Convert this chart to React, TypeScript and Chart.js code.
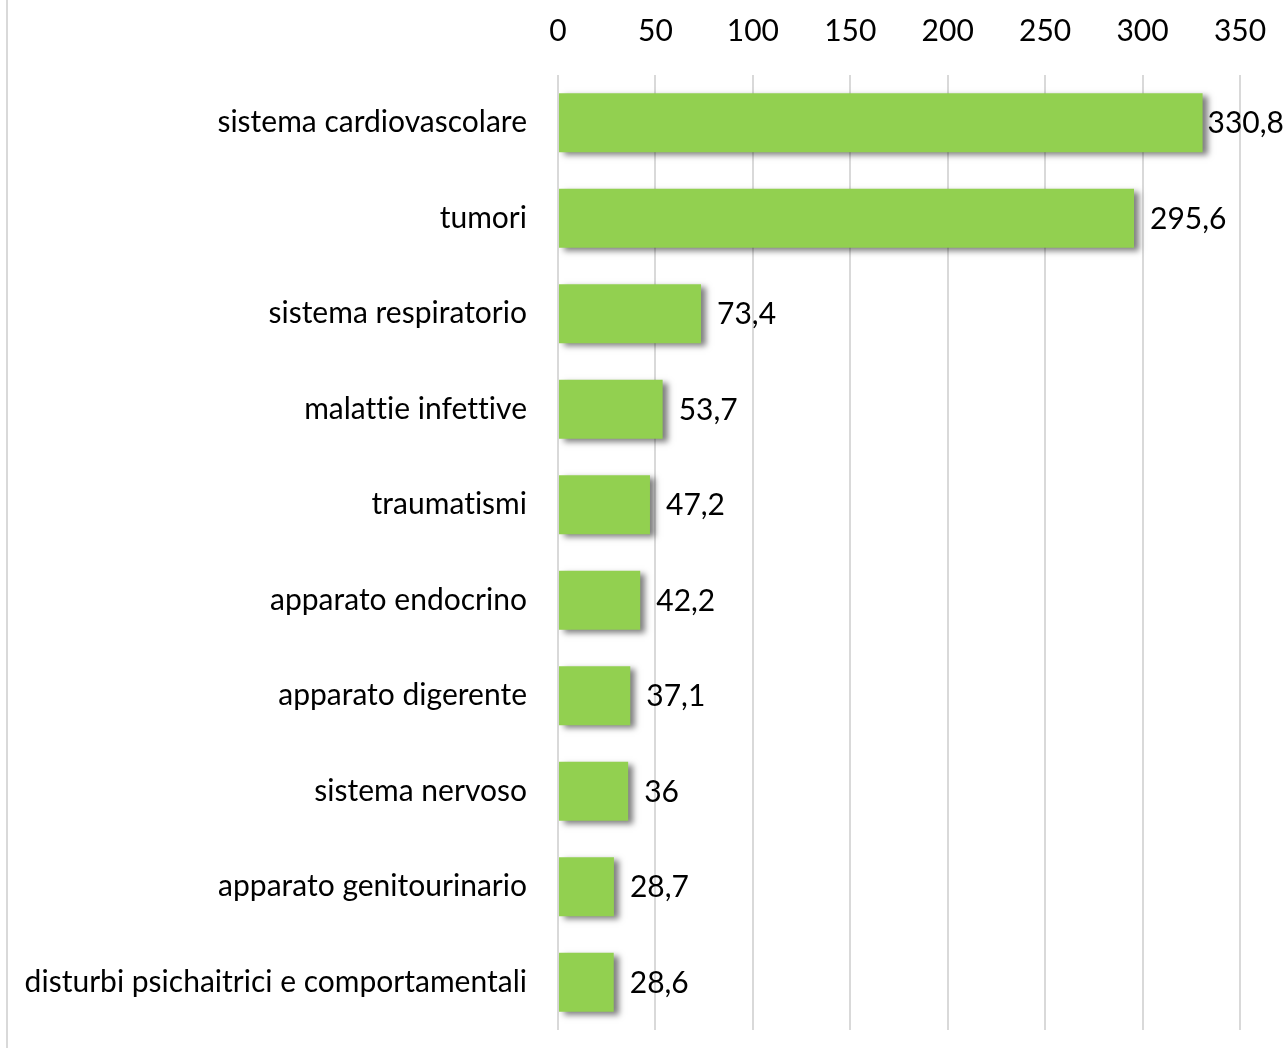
import React, { useEffect, useRef } from "react";
import { Chart, registerables } from "chart.js";

Chart.register(...registerables);

const categories: string[] = [
  "sistema cardiovascolare",
  "tumori",
  "sistema respiratorio",
  "malattie infettive",
  "traumatismi",
  "apparato endocrino",
  "apparato digerente",
  "sistema nervoso",
  "apparato genitourinario",
  "disturbi psichaitrici e comportamentali",
];

const values: number[] = [330.8, 295.6, 73.4, 53.7, 47.2, 42.2, 37.1, 36, 28.7, 28.6];

const xTicks: number[] = [0, 50, 100, 150, 200, 250, 300, 350];

const FONT = "Lato, 'Open Sans', sans-serif";
const FONT_SIZE = 30;
const GREEN = "#92D050";

const fmt = (v: number) => String(v).replace(".", ",");

const noLigaturePlugin = {
  id: "noLigatures",
  beforeDraw(chart: any) {
    const ctx = chart.ctx as any;
    ctx.textRendering = "optimizeSpeed";
    ctx.letterSpacing = "0.01px";
  },
};

const shadowPlugin = {
  id: "barShadow",
  beforeDatasetDraw(chart: any) {
    const ctx = chart.ctx;
    ctx.save();
    ctx.shadowColor = "rgba(0,0,0,0.5)";
    ctx.shadowOffsetX = 5;
    ctx.shadowOffsetY = 3;
    ctx.shadowBlur = 6;
  },
  afterDatasetDraw(chart: any) {
    chart.ctx.restore();
  },
};

const labelPlugin = {
  id: "valueLabels",
  afterDatasetsDraw(chart: any) {
    const ctx = chart.ctx;
    const meta = chart.getDatasetMeta(0);
    ctx.save();
    ctx.font = `${FONT_SIZE}px ${FONT}`;
    ctx.fillStyle = "#000";
    ctx.textBaseline = "middle";
    ctx.textAlign = "left";
    meta.data.forEach((bar: any, i: number) => {
      const text = fmt(values[i]);
      const w = ctx.measureText(text).width;
      let x = bar.x + 16;
      if (x + w > chart.width - 4) x = chart.width - 4 - w;
      ctx.fillText(text, x, bar.y + 1);
    });
    ctx.restore();
  },
};

export default function App() {
  const ref = useRef<HTMLCanvasElement | null>(null);

  useEffect(() => {
    if (!ref.current) return;
    const chart = new Chart(ref.current, {
      type: "bar",
      data: {
        labels: categories,
        datasets: [
          {
            data: values,
            backgroundColor: GREEN,
            borderWidth: 0,
            barPercentage: 0.62,
            categoryPercentage: 1,
          },
        ],
      },
      options: {
        indexAxis: "y",
        animation: false,
        responsive: false,
        maintainAspectRatio: false,
        layout: { padding: { top: 0, right: 48, bottom: 18, left: 0 } },
        plugins: {
          legend: { display: false },
          tooltip: { enabled: false },
        },
        scales: {
          x: {
            position: "top",
            min: 0,
            max: 350,
            afterBuildTicks(scale: any) {
              scale.ticks = xTicks.map((v) => ({ value: v }));
            },
            afterFit(scale: any) {
              scale.height = 75;
              scale.paddingLeft = 0;
              scale.paddingRight = 0;
              scale.paddingTop = 0;
              scale.paddingBottom = 0;
            },
            grid: { color: "#d9d9d9", lineWidth: 2, drawTicks: false },
            border: { display: false },
            ticks: {
              color: "#000",
              font: { family: FONT, size: FONT_SIZE },
              padding: 26,
            },
          },
          y: {
            afterFit(scale: any) {
              scale.width = 558;
              scale.paddingLeft = 0;
              scale.paddingRight = 0;
              scale.paddingTop = 0;
              scale.paddingBottom = 0;
            },
            grid: { display: false, drawTicks: false },
            border: { display: false },
            ticks: {
              color: "#000",
              font: { family: FONT, size: FONT_SIZE },
              padding: 31,
            },
          },
        },
      },
      plugins: [noLigaturePlugin, shadowPlugin, labelPlugin],
    });
    return () => chart.destroy();
  }, []);

  return (
    <div style={{ position: "fixed", left: 0, top: 0, width: 1288, height: 1048, background: "#fff" }}>
      <div style={{ position: "absolute", left: 6, top: 0, width: 2, height: 1048, background: "#d9d9d9" }} />
      <canvas ref={ref} width={1288} height={1048} style={{ position: "absolute", left: 0, top: 0 }} />
    </div>
  );
}
